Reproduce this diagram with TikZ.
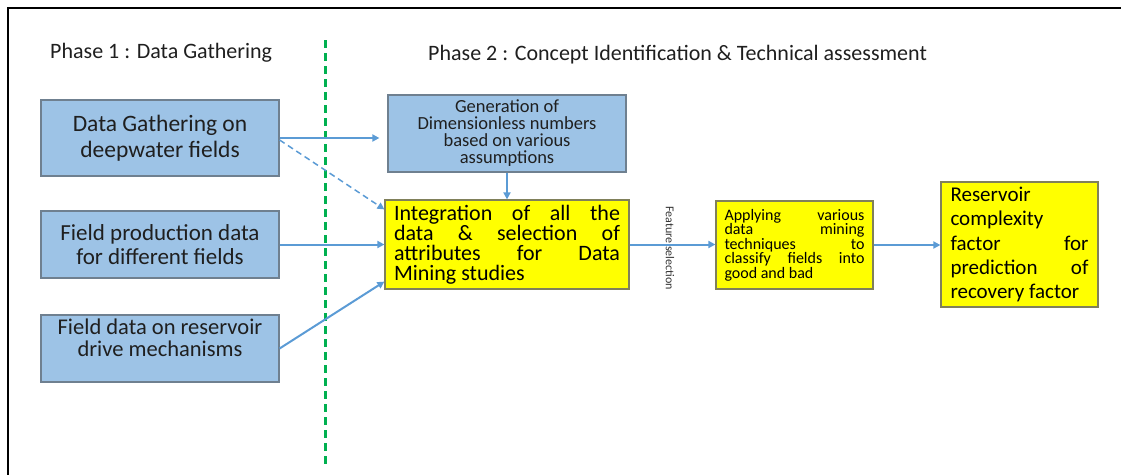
\documentclass[tikz,border=0pt]{standalone}
\usepackage{fontspec}
\setmainfont{Carlito}
\usetikzlibrary{calc,arrows.meta}
\definecolor{boxblue}{HTML}{9DC3E6}
\definecolor{blueedge}{HTML}{6F8090}
\definecolor{ylw}{HTML}{FFFF00}
\definecolor{ylwedge}{HTML}{80805A}
\definecolor{arrowblue}{HTML}{5B9BD5}
\definecolor{grn}{HTML}{00B050}
\hyphenpenalty=10000
\tolerance=10000
\tikzset{
  bluebox/.style={draw=blueedge, line width=1.2pt, fill=boxblue, minimum width=238pt, align=center, inner sep=1pt, text=black!88},
  ylwbox/.style={draw=ylwedge, line width=1.2pt, fill=ylw, align=justify, inner sep=0pt},
  conn/.style={draw=arrowblue, line width=2pt, -{Triangle[length=7pt,width=7pt]}},
  phase/.style={font=\fontsize{22}{26}\selectfont, text=black!88, anchor=west, inner sep=0pt}
}
\begin{document}
\begin{tikzpicture}[x=1pt,y=-1pt]
\useasboundingbox (0,0) rectangle (1121,474);
% frame
\draw[line width=2.5pt, black] (8,476) -- (8,8) -- (1123,8);
% phase titles
\node[phase] (p1) at (50,53) {Phase 1 : Data Gathering};
\node[phase] (p2) at (428,55) {Phase 2 : Concept Identification \& Technical assessment};
% divider
\draw[grn, line width=3pt, dash pattern=on 8pt off 5pt] (325,40) -- (325,466);
% left boxes
\node[bluebox, minimum height=76pt, font=\fontsize{23.5}{26}\selectfont] (A) at (160,138) {Data Gathering on\\deepwater fields};
\node[bluebox, minimum height=67pt, font=\fontsize{23}{23.5}\selectfont] (B) at (160,244.5) {Field production data\\for different fields};
\node[bluebox, minimum height=67pt, font=\fontsize{22.5}{21.5}\selectfont] (C) at (160,348.5) {Field data on reservoir\\drive mechanisms\\\mbox{}};
% phase 2 boxes
\node[bluebox, minimum height=77pt, font=\fontsize{18.5}{17}\selectfont] (D) at (507,133.5) {Generation of\\Dimensionless numbers\\based on various\\assumptions};
\node[ylwbox, minimum width=244pt, minimum height=89pt, text width=226pt, font=\fontsize{22}{20}\selectfont] (E) at (507,244.5) {Integration of all the\linebreak data \& selection of\linebreak attributes for Data\linebreak Mining studies};
\node[ylwbox, minimum width=157pt, minimum height=88pt, text width=140pt, font=\fontsize{16}{14.5}\selectfont] (F) at (794.5,245) {Applying various\linebreak data mining\linebreak techniques to\linebreak classify fields into\linebreak good and bad};
\node[ylwbox, minimum width=157pt, minimum height=125pt, text width=138pt, font=\fontsize{21}{24.2}\selectfont] (G) at (1019.5,244.5) {Reservoir\\complexity\\factor for\linebreak prediction of\linebreak recovery factor};
% label
\node[rotate=-90, font=\fontsize{12}{13}\selectfont, text=black!80, inner sep=0pt] (fs) at (670,248) {Feature selection};
% connectors
\draw[conn, shorten >=8pt] (A.east) -- (A.east -| D.west);
\draw[conn, line width=1.5pt, dash pattern=on 6pt off 4pt] ($(A.east)+(0,2)$) -- ($(E.north west)+(0,10)$);
\draw[conn] (D.south) -- (E.north);
\draw[conn] (B.east) -- (B.east -| E.west);
\draw[conn] (C.east) -- ($(E.south west)+(0,-8)$);
\draw[conn] (E.east) -- (E.east -| F.west);
\draw[conn] (F.east) -- (F.east -| G.west);
\end{tikzpicture}
\end{document}
